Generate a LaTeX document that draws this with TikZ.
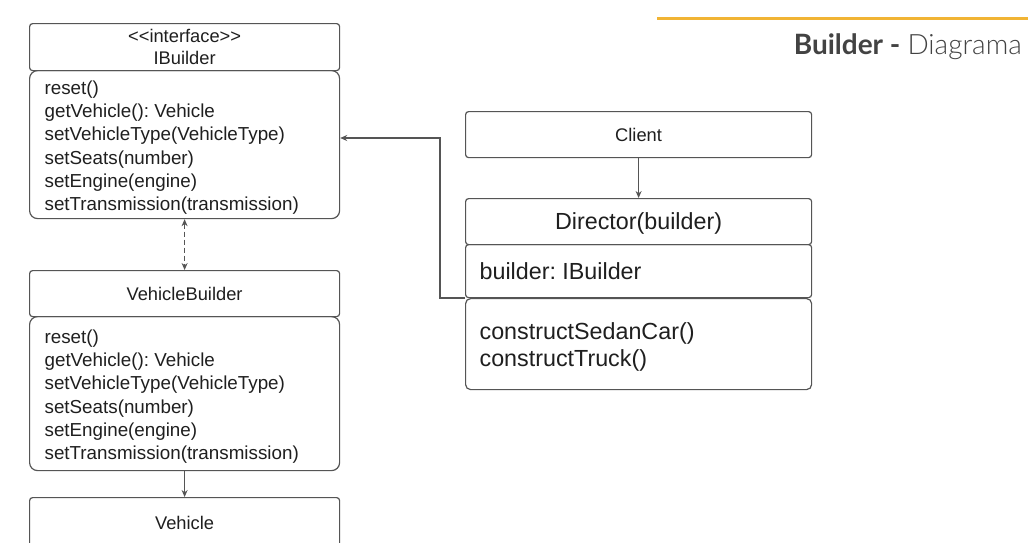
\documentclass[tikz,border=0pt]{standalone}
\usepackage{fontspec}
\setmainfont{Liberation Sans}
\newfontfamily\titlefont{Lato}
\newfontfamily\lightfont{Lato Light}
\usetikzlibrary{arrows.meta}
\definecolor{linec}{HTML}{555555}
\definecolor{textc}{HTML}{1F1F1F}
\definecolor{titlec}{HTML}{434343}
\definecolor{accent}{HTML}{F1B434}
\frenchspacing
\newcommand{\textlines}[3]{\raisebox{#1}[\height][\depth]{\parbox{#2}{\raggedright #3}}}
\begin{document}
\begin{tikzpicture}[x=1pt,y=-1pt,
  box/.style={draw=linec, line width=1.2pt, anchor=north west, inner sep=0pt, text=textc},
  headbox/.style={box, rounded corners=3pt, align=center, font=\fontsize{18.3}{22}\selectfont},
  bodybox/.style={box, rounded corners=8pt, font=\fontsize{18.8}{23.3}\selectfont},
  dirbox/.style={box, rounded corners=3pt, minimum width=346pt, font=\fontsize{23.3}{27}\selectfont},
  conn/.style={draw=linec, line width=1.1pt},
  tip/.style={-{Stealth[length=7pt,width=6pt]}}
]
\useasboundingbox (0,0) rectangle (1028,542);
\fill[white] (0,0) rectangle (1028,542);
% title
\draw[accent, line width=3pt] (657,18) -- (1028,18);
\node[anchor=east, text=titlec, font=\fontsize{28}{32}\selectfont\titlefont, inner sep=0pt] (title) at (1022,47) {\textbf{Builder -} {\lightfont Diagrama}};
% IBuilder
\node[headbox, minimum width=310pt, minimum height=47pt] (ibh) at (29,23) {\textless{}\textless{}interface\textgreater{}\textgreater{}\\IBuilder};
\node[bodybox, minimum width=310pt, minimum height=148pt] (ibb) at (29,70) {\textlines{-3pt}{280pt}{reset()\\getVehicle(): Vehicle\\setVehicleType(VehicleType)\\setSeats(number)\\setEngine(engine)\\setTransmission(transmission)}};
% VehicleBuilder
\node[headbox, minimum width=310pt, minimum height=46pt] (vbh) at (29,270) {VehicleBuilder};
\node[bodybox, minimum width=310pt, minimum height=154pt] (vbb) at (29,316) {\textlines{-3pt}{280pt}{reset()\\getVehicle(): Vehicle\\setVehicleType(VehicleType)\\setSeats(number)\\setEngine(engine)\\setTransmission(transmission)}};
% Vehicle
\node[headbox, minimum width=310pt, minimum height=60pt] (veh) at (29,497) {\raisebox{10pt}{Vehicle}};
% Client
\node[headbox, minimum width=346pt, minimum height=46pt] (cli) at (465,111) {Client};
% Director
\node[dirbox, align=center, minimum height=46pt] (dir) at (465,198) {\raisebox{-2pt}[\height][\depth]{Director(builder)}};
\node[dirbox, minimum height=53pt] (dfield) at (465,244) {\textlines{0pt}{318pt}{builder: IBuilder}};
\node[dirbox, rounded corners=5pt, minimum height=91pt] (dmeth) at (465,298) {\textlines{-3pt}{318pt}{constructSedanCar()\\constructTruck()}};
% connectors
\draw[conn, dashed, dash pattern=on 5pt off 3pt, {Stealth[length=7pt,width=6pt]}-{Stealth[length=7pt,width=6pt]}] (ibb.south) -- (vbh.north);
\draw[conn, tip] (vbb.south) -- (veh.north);
\draw[conn, tip] (cli.south) -- (dir.north);
\coordinate (bend1) at (440,298);
\coordinate (bend2) at (440,138);
\draw[conn, tip] (dmeth.north west) -- (bend1) -- (bend2) -- (ibb.east |- bend2);
\end{tikzpicture}
\end{document}
